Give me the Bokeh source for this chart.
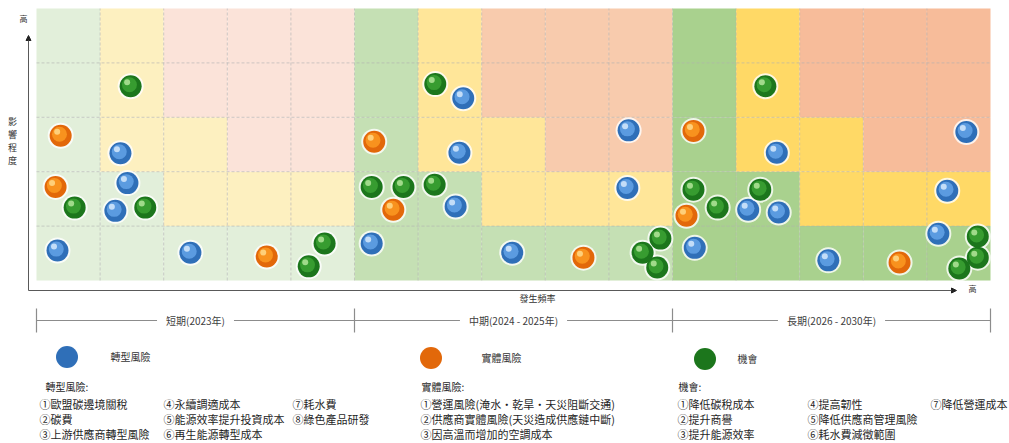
from bokeh.plotting import figure
from bokeh.models import (Range1d, Label, Arrow, NormalHead, Legend, LegendItem,
                          ColumnDataSource)
from bokeh.transform import dodge
from bokeh.embed import file_html
from bokeh.resources import INLINE

# ---------------- data ----------------
periods = ["短期(2023年)", "中期(2024 - 2025年)", "長期(2026 - 2030年)"]
series_names = ["轉型風險", "實體風險", "機會"]
y_title = "影響程度"
x_title = "發生頻率"

# frequency axis: 0-15 (5 columns per period), impact axis: 0-5
trans_freq = [1.32, 1.43, 1.24, 0.33, 2.42,
              6.71, 6.65, 9.31, 6.59, 9.29, 5.27, 7.48,
              11.64, 14.62, 11.19, 11.67, 14.32, 10.35, 12.45, 14.18]
trans_impact = [2.34, 1.79, 1.28, 0.55, 0.51,
                3.35, 2.35, 2.76, 1.36, 1.70, 0.68, 0.51,
                2.35, 2.73, 1.30, 1.25, 1.65, 0.60, 0.37, 0.86]

phys_freq = [0.38, 0.30, 3.62,
             5.31, 5.61, 8.60,
             10.33, 10.22, 13.57]
phys_impact = [2.66, 1.72, 0.44,
               2.55, 1.30, 0.42,
               2.75, 1.19, 0.33]

opp_freq = [1.48, 0.60, 1.71, 4.53, 4.28,
            6.27, 5.27, 5.77, 6.26, 9.81, 9.53, 9.76,
            11.46, 10.33, 11.38, 10.71, 14.80, 14.80, 14.51]
opp_impact = [3.57, 1.34, 1.34, 0.68, 0.26,
              3.61, 1.72, 1.72, 1.76, 0.77, 0.51, 0.24,
              3.57, 1.67, 1.67, 1.34, 0.81, 0.42, 0.22]

# risk zone per cell (rows bottom -> top, 5 columns): G low, Y medium, P high
risk_zone = ["GGGGG", "GGYYY", "GYYPP", "GYPPP", "GYPPP"]

trans_items = ["①歐盟碳邊境關稅", "②碳費", "③上游供應商轉型風險",
               "④永續調適成本", "⑤能源效率提升投資成本", "⑥再生能源轉型成本",
               "⑦耗水費", "⑧綠色產品研發"]
phys_items = ["①營運風險(淹水・乾旱・天災阻斷交通)",
              "②供應商實體風險(天災造成供應鏈中斷)",
              "③因高溫而增加的空調成本"]
opp_items = ["①降低碳稅成本", "②提升商譽", "③提升能源效率",
             "④提高韌性", "⑤降低供應商管理風險", "⑥耗水費減徵範圍",
             "⑦降低營運成本"]

# ---------------- layout ----------------
W, H = 1009, 443
L_PX, R_PX = 36, 990
T_PX, B_PX = 8, 280
NX, NY = 15, 5
ux = (R_PX - L_PX) / NX
uy = (B_PX - T_PX) / NY

FONT = "Noto Sans CJK TC"


def fx(ix):
    return (ix - L_PX) / ux


def fy(iy):
    return (B_PX - iy) / uy


p = figure(width=W, height=H, output_backend="svg", toolbar_location=None,
           x_range=Range1d(-L_PX / ux, NX + (W - R_PX) / ux),
           y_range=Range1d(-(H - B_PX) / uy, NY + T_PX / uy),
           x_axis_location=None, y_axis_location=None,
           min_border=0, title=None, outline_line_color=None,
           background_fill_color="white", border_fill_color="white")
p.xgrid.visible = False
p.ygrid.visible = False

# ---- matrix cells ----
palettes = [
    {"G": "#e2efda", "Y": "#fdf0c0", "P": "#fbe3d9"},
    {"G": "#c5e0b4", "Y": "#ffe699", "P": "#f8cbad"},
    {"G": "#a9d18e", "Y": "#ffd966", "P": "#f7bc9a"},
]
cl, cr, cb, ct, cc = [], [], [], [], []
for k in range(3):
    for r, row in enumerate(risk_zone):
        for c, z in enumerate(row):
            cl.append(k * 5 + c)
            cr.append(k * 5 + c + 1)
            cb.append(r)
            ct.append(r + 1)
            cc.append(palettes[k][z])
p.quad(left=cl, right=cr, bottom=cb, top=ct, fill_color=cc, line_color=None)

# grid lines
vx = list(range(1, NX))
p.segment(x0=vx, y0=[0] * len(vx), x1=vx, y1=[NY] * len(vx),
          line_color="#b0b0b0", line_alpha=0.6, line_dash="3 2", line_width=1)
hy = list(range(1, NY))
p.segment(x0=[0] * len(hy), y0=hy, x1=[NX] * len(hy), y1=hy,
          line_color="#b0b0b0", line_alpha=0.6, line_dash="3 2", line_width=1)


# ---- bubbles ----
def bubbles(xs, ys, edge, mid, hi):
    src = ColumnDataSource(dict(x=xs, y=ys))
    p.scatter("x", "y", source=src, size=26, fill_color="white",
              fill_alpha=0.8, line_color=None)
    base = p.scatter("x", "y", source=src, size=22, fill_color=edge,
                     line_color=None)
    p.scatter(dodge("x", -1.2 / ux), dodge("y", 1.5 / uy), source=src, size=15,
              fill_color=mid, line_color=None)
    p.scatter(dodge("x", -3.5 / ux), dodge("y", 4 / uy), source=src, size=6,
              fill_color=hi, fill_alpha=0.85, line_color=None)
    return base


r_trans = bubbles(trans_freq, trans_impact, "#2f6fb8", "#5b9be0", "#d6e9fb")
r_phys = bubbles(phys_freq, phys_impact, "#e2680a", "#f8921e", "#ffd98a")
r_opp = bubbles(opp_freq, opp_impact, "#1c761c", "#379c30", "#b3e59a")

# ---- axes arrows ----
ax_col = "#595959"
p.add_layout(Arrow(x_start=fx(28), y_start=fy(290), x_end=fx(28), y_end=fy(35),
                   line_color=ax_col, line_width=1,
                   end=NormalHead(size=5, fill_color="#222222", line_color="#222222")))
p.add_layout(Arrow(x_start=fx(28), y_start=fy(290), x_end=fx(956), y_end=fy(290),
                   line_color=ax_col, line_width=1,
                   end=NormalHead(size=5, fill_color="#222222", line_color="#222222")))

small = dict(text_font=FONT, text_color="#333333", text_align="center",
             text_baseline="middle")
p.add_layout(Label(x=fx(23), y=fy(18), text="高", text_font_size="8px", **small))
p.add_layout(Label(x=fx(972), y=fy(288), text="高", text_font_size="8px", **small))
for i, ch in enumerate(y_title):
    p.add_layout(Label(x=fx(12), y=fy(121 + 13 * i), text=ch,
                       text_font_size="9px", **small))
p.add_layout(Label(x=fx(537), y=fy(298), text=x_title,
                   text_font_size="9px", **small))

# ---- timeline ----
ty = fy(320)
p.segment(x0=[0], y0=[ty], x1=[NX], y1=[ty], line_color="#8c8c8c", line_width=1)
tk = [0, 5, 10, 15]
p.segment(x0=tk, y0=[fy(308)] * 4, x1=tk, y1=[fy(332)] * 4,
          line_color="#8c8c8c", line_width=1.2)
for k, name in enumerate(periods):
    p.add_layout(Label(x=k * 5 + 2.5, y=ty, text=name, text_font=FONT,
                       text_font_size="10px", text_color="#404040",
                       text_align="center", text_baseline="middle",
                       background_fill_color="white", padding=9))

# ---- legends ----
leg_pos = [(66, 356, 17), (430, 357, 24), (704, 358, 6)]
for name, rend, (ix, iy, st) in zip(series_names, [r_trans, r_phys, r_opp], leg_pos):
    lg = Legend(items=[LegendItem(label=name, renderers=[rend])],
                location=(ix - 27.5, H - iy - 27.5),
                glyph_width=55, glyph_height=55, label_standoff=st,
                padding=0, margin=0, border_line_color=None,
                background_fill_alpha=0, label_text_font=FONT,
                label_text_font_size="10px", label_text_color="#333333")
    p.add_layout(lg, "center")

# ---- lists ----
txt = dict(text_font=FONT, text_color="#1f1f1f", text_align="left",
           text_baseline="middle")
row_y = [403, 418, 433]


def add_list(header, hx, items, cols_x, per_col=3):
    p.add_layout(Label(x=fx(hx), y=fy(386), text=header, text_font_size="10px", **txt))
    for i, it in enumerate(items):
        p.add_layout(Label(x=fx(cols_x[i // per_col]), y=fy(row_y[i % per_col]),
                           text=it, text_font_size="11px", **txt))


add_list("轉型風險:", 45, trans_items, [39, 163, 292])
add_list("實體風險:", 421, phys_items, [420])
add_list("機會:", 678, opp_items, [677, 807, 930])

open("out.html", "w").write(file_html(p, INLINE))
